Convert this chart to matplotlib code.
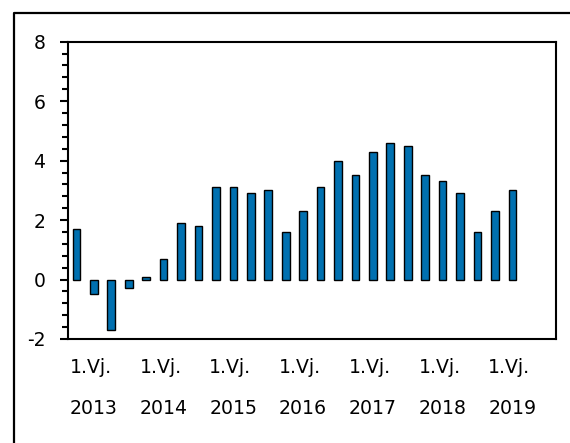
import matplotlib
matplotlib.use("Agg")
import matplotlib.pyplot as plt
from matplotlib.ticker import MultipleLocator
from matplotlib.lines import Line2D

values = [1.7, -0.5, -1.7, -0.3, 0.1, 0.7, 1.9, 1.8, 3.1, 3.1, 2.9, 3.0, 1.6,
          2.3, 3.1, 4.0, 3.5, 4.3, 4.6, 4.5, 3.5, 3.3, 2.9, 1.6, 2.3, 3.0]
years = ["2013", "2014", "2015", "2016", "2017", "2018", "2019"]
quarter_label = "1.Vj."
y_ticks = [-2, 0, 2, 4, 6, 8]

plt.rcParams['font.family'] = ['DejaVu Sans']

W, H = 570, 443
fig = plt.figure(figsize=(W / 100, H / 100), dpi=100)
ax = fig.add_axes([67.7 / W, 1 - 339 / H, (556 - 67.7) / W, (339 - 41.7) / H])

x = list(range(len(values)))
ax.bar(x, values, width=0.44, color="#0070B0", edgecolor="black", linewidth=1.0, zorder=3)

ax.set_xlim(-0.5, 27.5)
ax.set_ylim(-2, 8)
ax.set_yticks(y_ticks)
ax.set_yticklabels([str(v) for v in y_ticks])
ax.yaxis.set_minor_locator(MultipleLocator(0.4))
ax.tick_params(axis='y', which='major', direction='out', length=6, width=1.5,
               labelsize=13.5, pad=10)
ax.tick_params(axis='y', which='minor', direction='out', length=4.5, width=1.5)

xt = [1 + 4 * i for i in range(len(years))]
ax.set_xticks(xt)
ax.set_xticklabels([f"{quarter_label}\n{y}" for y in years], linespacing=2.45)
ax.tick_params(axis='x', length=0, labelsize=13.6, pad=14)
for t in ax.get_xticklabels():
    t.set_multialignment('left')

for s in ax.spines.values():
    s.set_linewidth(1.5)

# outer frame (left and top edges visible)
fig.add_artist(Line2D([14 / W, 14 / W, 1.0], [0.0, 1 - 13 / H, 1 - 13 / H],
                      transform=fig.transFigure, color="black", linewidth=1.6))

fig.savefig("out.png", dpi=100)
